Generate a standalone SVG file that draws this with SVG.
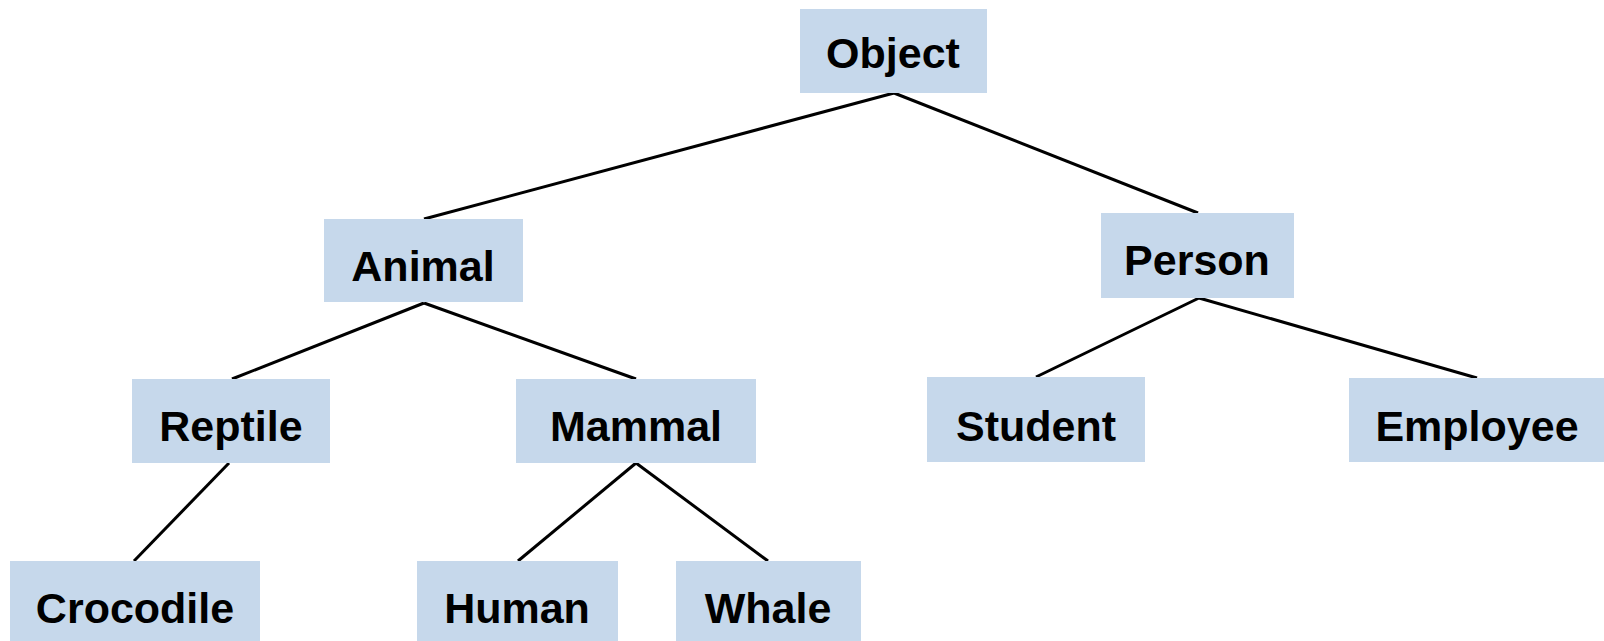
<svg xmlns="http://www.w3.org/2000/svg" width="1604" height="641" viewBox="0 0 1604 641">
<style>
.box{fill:#c6d8eb;}
.lbl{font-family:"Liberation Sans",Arial,sans-serif;font-weight:bold;font-size:43px;fill:#000;text-anchor:middle;}
.edge{stroke:#000;stroke-width:3;fill:none;}
</style>
<rect width="1604" height="641" fill="#fff"/>
<g id="connectors">
<line class="edge" x1="894" y1="93" x2="424" y2="219"/>
<line class="edge" x1="894" y1="93" x2="1198" y2="213"/>
<line class="edge" x1="424" y1="303" x2="232" y2="379"/>
<line class="edge" x1="424" y1="303" x2="636" y2="379"/>
<line class="edge" x1="1199" y1="298" x2="1036" y2="377"/>
<line class="edge" x1="1199" y1="298" x2="1477" y2="378"/>
<line class="edge" x1="229" y1="463" x2="134" y2="561"/>
<line class="edge" x1="636" y1="463" x2="518" y2="561"/>
<line class="edge" x1="636" y1="463" x2="768" y2="561"/>
</g>
<g id="object"><rect class="box" x="800" y="9" width="187" height="84"/><text class="lbl" x="893" y="68">Object</text></g>
<g id="animal"><rect class="box" x="324" y="219" width="199" height="83"/><text class="lbl" x="423" y="281">Animal</text></g>
<g id="person"><rect class="box" x="1101" y="213" width="193" height="85"/><text class="lbl" x="1197" y="275">Person</text></g>
<g id="reptile"><rect class="box" x="132" y="379" width="198" height="84"/><text class="lbl" x="231" y="441">Reptile</text></g>
<g id="mammal"><rect class="box" x="516" y="379" width="240" height="84"/><text class="lbl" x="636" y="441">Mammal</text></g>
<g id="student"><rect class="box" x="927" y="377" width="218" height="85"/><text class="lbl" x="1036" y="441">Student</text></g>
<g id="employee"><rect class="box" x="1349" y="378" width="255" height="84"/><text class="lbl" x="1477" y="441">Employee</text></g>
<g id="crocodile"><rect class="box" x="10" y="561" width="250" height="80"/><text class="lbl" x="135" y="623">Crocodile</text></g>
<g id="human"><rect class="box" x="417" y="561" width="201" height="80"/><text class="lbl" x="517" y="623">Human</text></g>
<g id="whale"><rect class="box" x="676" y="561" width="185" height="80"/><text class="lbl" x="768" y="623">Whale</text></g>
</svg>
